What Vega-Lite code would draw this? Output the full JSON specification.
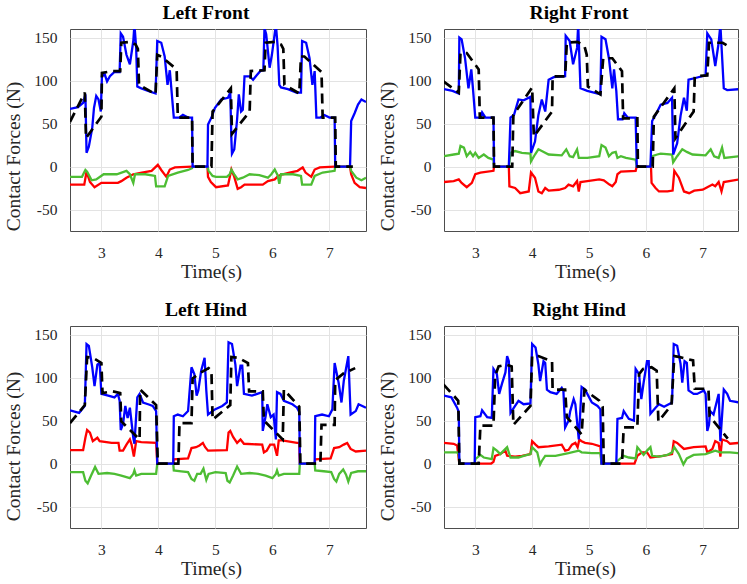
{
"$schema":"https://vega.github.io/schema/vega-lite/v6.json",
"background":"white",
"padding":{"left":3,"top":2,"right":2,"bottom":2},
"spacing":{"row":17,"column":10},
"columns":2,
"datasets":{
"LFb":[{"t":2.45,"v":67},{"t":2.59,"v":69},{"t":2.68,"v":74},{"t":2.72,"v":84},{"t":2.74,"v":16},{"t":2.78,"v":23},{"t":2.84,"v":45},{"t":2.87,"v":68},{"t":2.91,"v":82},{"t":2.95,"v":78},{"t":2.99,"v":64},{"t":3.01,"v":105},{"t":3.06,"v":107},{"t":3.10,"v":99},{"t":3.15,"v":105},{"t":3.23,"v":110},{"t":3.32,"v":110},{"t":3.34,"v":155},{"t":3.38,"v":151},{"t":3.44,"v":130},{"t":3.50,"v":119},{"t":3.56,"v":146},{"t":3.58,"v":165},{"t":3.61,"v":138},{"t":3.63,"v":93},{"t":3.70,"v":91},{"t":3.82,"v":88},{"t":3.95,"v":85},{"t":3.98,"v":146},{"t":4.05,"v":144},{"t":4.11,"v":128},{"t":4.16,"v":95},{"t":4.20,"v":112},{"t":4.27,"v":57},{"t":4.37,"v":57},{"t":4.43,"v":60},{"t":4.52,"v":57},{"t":4.59,"v":57},{"t":4.60,"v":0},{"t":4.86,"v":0},{"t":4.87,"v":49},{"t":4.93,"v":57},{"t":4.99,"v":68},{"t":5.10,"v":78},{"t":5.22,"v":80},{"t":5.26,"v":86},{"t":5.28,"v":31},{"t":5.29,"v":15},{"t":5.33,"v":20},{"t":5.38,"v":55},{"t":5.41,"v":84},{"t":5.45,"v":64},{"t":5.48,"v":66},{"t":5.51,"v":105},{"t":5.60,"v":105},{"t":5.66,"v":101},{"t":5.72,"v":106},{"t":5.80,"v":112},{"t":5.84,"v":112},{"t":5.86,"v":161},{"t":5.89,"v":154},{"t":5.95,"v":115},{"t":5.99,"v":130},{"t":6.03,"v":150},{"t":6.06,"v":165},{"t":6.09,"v":140},{"t":6.12,"v":95},{"t":6.15,"v":92},{"t":6.27,"v":90},{"t":6.42,"v":86},{"t":6.50,"v":86},{"t":6.52,"v":146},{"t":6.59,"v":144},{"t":6.65,"v":126},{"t":6.70,"v":95},{"t":6.74,"v":111},{"t":6.77,"v":57},{"t":6.84,"v":57},{"t":6.91,"v":60},{"t":7.00,"v":57},{"t":7.09,"v":57},{"t":7.10,"v":0},{"t":7.36,"v":0},{"t":7.38,"v":53},{"t":7.44,"v":62},{"t":7.50,"v":72},{"t":7.56,"v":78},{"t":7.64,"v":75}],
"LFk":[{"t":2.45,"v":52},{"t":2.71,"v":86},{"t":2.73,"v":33},{"t":3.00,"v":58},{"t":3.01,"v":109},{"t":3.20,"v":111},{"t":3.33,"v":111},{"t":3.35,"v":144},{"t":3.50,"v":145},{"t":3.60,"v":142},{"t":3.64,"v":137},{"t":3.66,"v":95},{"t":3.95,"v":84},{"t":3.98,"v":130},{"t":4.05,"v":128},{"t":4.32,"v":113},{"t":4.34,"v":57},{"t":4.59,"v":57},{"t":4.60,"v":0},{"t":4.93,"v":0},{"t":4.95,"v":64},{"t":5.27,"v":91},{"t":5.29,"v":38},{"t":5.60,"v":64},{"t":5.62,"v":111},{"t":5.86,"v":112},{"t":5.88,"v":144},{"t":6.05,"v":145},{"t":6.15,"v":142},{"t":6.19,"v":137},{"t":6.21,"v":95},{"t":6.47,"v":85},{"t":6.50,"v":128},{"t":6.56,"v":128},{"t":6.86,"v":110},{"t":6.88,"v":57},{"t":7.10,"v":57},{"t":7.11,"v":0},{"t":7.41,"v":0}],
"LFg":[{"t":2.45,"v":-12},{"t":2.66,"v":-12},{"t":2.72,"v":-4},{"t":2.75,"v":-6},{"t":2.83,"v":-16},{"t":2.91,"v":-15},{"t":3.04,"v":-9},{"t":3.27,"v":-9},{"t":3.44,"v":-5},{"t":3.50,"v":-9},{"t":3.56,"v":-19},{"t":3.59,"v":-9},{"t":3.77,"v":-9},{"t":3.94,"v":-11},{"t":3.96,"v":-23},{"t":4.11,"v":-23},{"t":4.17,"v":-11},{"t":4.34,"v":-7},{"t":4.52,"v":-4},{"t":4.59,"v":-2},{"t":4.60,"v":0},{"t":4.86,"v":0},{"t":4.88,"v":-5},{"t":4.95,"v":-11},{"t":5.01,"v":-12},{"t":5.20,"v":-12},{"t":5.25,"v":-9},{"t":5.28,"v":-3.5},{"t":5.33,"v":-9},{"t":5.39,"v":-15},{"t":5.48,"v":-13},{"t":5.60,"v":-9},{"t":5.77,"v":-10},{"t":5.92,"v":-13},{"t":5.98,"v":-9},{"t":6.04,"v":-3.5},{"t":6.09,"v":-10},{"t":6.12,"v":-20},{"t":6.15,"v":-9},{"t":6.36,"v":-9},{"t":6.50,"v":-11},{"t":6.52,"v":-21},{"t":6.68,"v":-21},{"t":6.74,"v":-11},{"t":6.88,"v":-7},{"t":7.09,"v":-5},{"t":7.10,"v":0},{"t":7.36,"v":0},{"t":7.38,"v":-5},{"t":7.47,"v":-13},{"t":7.56,"v":-16},{"t":7.64,"v":-13}],
"LFr":[{"t":2.45,"v":-21},{"t":2.70,"v":-21},{"t":2.74,"v":-6},{"t":2.80,"v":-18},{"t":2.88,"v":-24},{"t":3.00,"v":-19},{"t":3.29,"v":-19},{"t":3.35,"v":-17},{"t":3.44,"v":-13},{"t":3.56,"v":-9},{"t":3.71,"v":-7},{"t":3.88,"v":-5},{"t":3.99,"v":2},{"t":4.05,"v":-4},{"t":4.14,"v":-12},{"t":4.20,"v":-3.5},{"t":4.29,"v":-1},{"t":4.59,"v":0},{"t":4.86,"v":0},{"t":4.87,"v":-12},{"t":4.92,"v":-18},{"t":5.01,"v":-24},{"t":5.22,"v":-22},{"t":5.28,"v":-3.5},{"t":5.33,"v":-12},{"t":5.39,"v":-26},{"t":5.45,"v":-24},{"t":5.51,"v":-21},{"t":5.83,"v":-21},{"t":5.92,"v":-17},{"t":6.04,"v":-15},{"t":6.10,"v":-11},{"t":6.18,"v":-9},{"t":6.30,"v":-7},{"t":6.44,"v":-5},{"t":6.53,"v":-1},{"t":6.58,"v":-7},{"t":6.68,"v":-12},{"t":6.74,"v":-3.5},{"t":6.83,"v":-1},{"t":7.09,"v":0},{"t":7.36,"v":0},{"t":7.38,"v":-9},{"t":7.44,"v":-19},{"t":7.53,"v":-24},{"t":7.64,"v":-25}],
"RFb":[{"t":2.45,"v":90},{"t":2.60,"v":88},{"t":2.71,"v":85},{"t":2.72,"v":150},{"t":2.76,"v":148},{"t":2.82,"v":126},{"t":2.88,"v":91},{"t":2.93,"v":113},{"t":2.96,"v":90},{"t":3.00,"v":57},{"t":3.09,"v":57},{"t":3.12,"v":63},{"t":3.18,"v":57},{"t":3.32,"v":57},{"t":3.33,"v":0},{"t":3.59,"v":0},{"t":3.62,"v":57},{"t":3.68,"v":60},{"t":3.76,"v":78},{"t":3.85,"v":77},{"t":3.97,"v":81},{"t":3.98,"v":16},{"t":4.05,"v":29},{"t":4.11,"v":60},{"t":4.17,"v":78},{"t":4.23,"v":64},{"t":4.29,"v":101},{"t":4.38,"v":104},{"t":4.58,"v":105},{"t":4.59,"v":152},{"t":4.66,"v":146},{"t":4.72,"v":119},{"t":4.79,"v":138},{"t":4.81,"v":165},{"t":4.85,"v":91},{"t":4.97,"v":88},{"t":5.20,"v":84},{"t":5.22,"v":151},{"t":5.29,"v":148},{"t":5.35,"v":126},{"t":5.41,"v":91},{"t":5.44,"v":113},{"t":5.48,"v":88},{"t":5.51,"v":55},{"t":5.59,"v":55},{"t":5.62,"v":62},{"t":5.68,"v":57},{"t":5.82,"v":57},{"t":5.84,"v":0},{"t":6.08,"v":0},{"t":6.11,"v":53},{"t":6.17,"v":60},{"t":6.26,"v":72},{"t":6.38,"v":74},{"t":6.46,"v":80},{"t":6.48,"v":14},{"t":6.55,"v":27},{"t":6.61,"v":59},{"t":6.67,"v":80},{"t":6.72,"v":65},{"t":6.75,"v":101},{"t":6.87,"v":103},{"t":7.05,"v":106},{"t":7.08,"v":155},{"t":7.15,"v":148},{"t":7.22,"v":117},{"t":7.28,"v":144},{"t":7.31,"v":165},{"t":7.37,"v":91},{"t":7.43,"v":89},{"t":7.64,"v":90}],
"RFk":[{"t":2.44,"v":99},{"t":2.71,"v":86},{"t":2.74,"v":132},{"t":2.85,"v":132},{"t":3.06,"v":113},{"t":3.08,"v":57},{"t":3.32,"v":57},{"t":3.33,"v":0},{"t":3.65,"v":0},{"t":3.67,"v":60},{"t":4.00,"v":92},{"t":4.03,"v":35},{"t":4.35,"v":64},{"t":4.36,"v":105},{"t":4.58,"v":105},{"t":4.61,"v":144},{"t":4.80,"v":145},{"t":4.92,"v":140},{"t":4.96,"v":130},{"t":4.98,"v":93},{"t":5.20,"v":84},{"t":5.25,"v":126},{"t":5.41,"v":126},{"t":5.58,"v":111},{"t":5.60,"v":56},{"t":5.85,"v":56},{"t":5.86,"v":0},{"t":6.12,"v":0},{"t":6.14,"v":58},{"t":6.50,"v":91},{"t":6.52,"v":33},{"t":6.84,"v":64},{"t":6.86,"v":105},{"t":7.08,"v":106},{"t":7.11,"v":144},{"t":7.35,"v":144},{"t":7.45,"v":140}],
"RFg":[{"t":2.45,"v":12},{"t":2.62,"v":14},{"t":2.71,"v":15},{"t":2.74,"v":24},{"t":2.80,"v":22},{"t":2.85,"v":12},{"t":2.91,"v":17},{"t":2.96,"v":12},{"t":3.00,"v":16},{"t":3.06,"v":10},{"t":3.15,"v":14},{"t":3.23,"v":10},{"t":3.32,"v":8},{"t":3.33,"v":0},{"t":3.59,"v":0},{"t":3.62,"v":16},{"t":3.70,"v":18},{"t":3.82,"v":16},{"t":3.97,"v":15},{"t":3.98,"v":6},{"t":4.05,"v":14},{"t":4.11,"v":20},{"t":4.17,"v":18},{"t":4.29,"v":14},{"t":4.52,"v":13},{"t":4.60,"v":20},{"t":4.66,"v":12},{"t":4.72,"v":11},{"t":4.79,"v":20},{"t":4.82,"v":10},{"t":4.97,"v":10},{"t":5.18,"v":12},{"t":5.22,"v":25},{"t":5.29,"v":22},{"t":5.35,"v":12},{"t":5.41,"v":16},{"t":5.47,"v":17},{"t":5.50,"v":10},{"t":5.56,"v":12},{"t":5.65,"v":10},{"t":5.82,"v":8},{"t":5.84,"v":0},{"t":6.08,"v":0},{"t":6.11,"v":12},{"t":6.20,"v":14},{"t":6.26,"v":15},{"t":6.46,"v":14},{"t":6.48,"v":5},{"t":6.55,"v":12},{"t":6.64,"v":20},{"t":6.72,"v":17},{"t":6.82,"v":14},{"t":7.05,"v":13},{"t":7.14,"v":20},{"t":7.20,"v":12},{"t":7.28,"v":10},{"t":7.34,"v":22},{"t":7.38,"v":10},{"t":7.64,"v":12}],
"RFr":[{"t":2.45,"v":-18},{"t":2.62,"v":-17},{"t":2.71,"v":-15},{"t":2.76,"v":-19},{"t":2.85,"v":-24},{"t":2.94,"v":-19},{"t":3.00,"v":-9},{"t":3.09,"v":-7},{"t":3.32,"v":-5},{"t":3.33,"v":0},{"t":3.59,"v":0},{"t":3.60,"v":-23},{"t":3.70,"v":-25},{"t":3.79,"v":-31},{"t":3.94,"v":-29},{"t":3.98,"v":-7},{"t":4.05,"v":-13},{"t":4.11,"v":-29},{"t":4.17,"v":-31},{"t":4.23,"v":-25},{"t":4.29,"v":-28},{"t":4.47,"v":-27},{"t":4.58,"v":-25},{"t":4.64,"v":-21},{"t":4.72,"v":-23},{"t":4.79,"v":-17},{"t":4.82,"v":-29},{"t":4.85,"v":-18},{"t":4.97,"v":-17},{"t":5.18,"v":-15},{"t":5.26,"v":-16},{"t":5.36,"v":-21},{"t":5.41,"v":-23},{"t":5.47,"v":-18},{"t":5.50,"v":-9},{"t":5.56,"v":-6},{"t":5.82,"v":-5},{"t":5.84,"v":0},{"t":6.09,"v":0},{"t":6.10,"v":-19},{"t":6.17,"v":-25},{"t":6.23,"v":-29},{"t":6.38,"v":-29},{"t":6.47,"v":-28},{"t":6.50,"v":-5},{"t":6.58,"v":-13},{"t":6.67,"v":-29},{"t":6.76,"v":-31},{"t":6.85,"v":-28},{"t":7.00,"v":-27},{"t":7.08,"v":-24},{"t":7.17,"v":-21},{"t":7.22,"v":-23},{"t":7.28,"v":-18},{"t":7.33,"v":-29},{"t":7.37,"v":-18},{"t":7.64,"v":-15}],
"LHb":[{"t":2.45,"v":62},{"t":2.61,"v":59},{"t":2.71,"v":67},{"t":2.74,"v":139},{"t":2.78,"v":137},{"t":2.84,"v":112},{"t":2.88,"v":90},{"t":2.93,"v":115},{"t":2.97,"v":117},{"t":3.00,"v":81},{"t":3.12,"v":79},{"t":3.23,"v":77},{"t":3.29,"v":81},{"t":3.32,"v":73},{"t":3.34,"v":39},{"t":3.38,"v":46},{"t":3.42,"v":67},{"t":3.46,"v":53},{"t":3.50,"v":65},{"t":3.56,"v":30},{"t":3.58,"v":23},{"t":3.63,"v":77},{"t":3.67,"v":81},{"t":3.73,"v":71},{"t":3.82,"v":69},{"t":3.90,"v":67},{"t":3.96,"v":61},{"t":3.98,"v":0},{"t":4.26,"v":0},{"t":4.27,"v":55},{"t":4.34,"v":57},{"t":4.43,"v":55},{"t":4.52,"v":61},{"t":4.58,"v":112},{"t":4.63,"v":104},{"t":4.67,"v":79},{"t":4.70,"v":85},{"t":4.75,"v":108},{"t":4.81,"v":123},{"t":4.84,"v":85},{"t":4.87,"v":57},{"t":4.99,"v":63},{"t":5.12,"v":67},{"t":5.20,"v":71},{"t":5.23,"v":141},{"t":5.29,"v":139},{"t":5.35,"v":115},{"t":5.38,"v":90},{"t":5.44,"v":114},{"t":5.47,"v":114},{"t":5.50,"v":81},{"t":5.64,"v":79},{"t":5.82,"v":83},{"t":5.83,"v":38},{"t":5.88,"v":55},{"t":5.91,"v":69},{"t":5.97,"v":54},{"t":6.02,"v":57},{"t":6.06,"v":28},{"t":6.08,"v":83},{"t":6.14,"v":81},{"t":6.20,"v":73},{"t":6.35,"v":69},{"t":6.43,"v":65},{"t":6.47,"v":60},{"t":6.48,"v":0},{"t":6.74,"v":0},{"t":6.75,"v":55},{"t":6.87,"v":57},{"t":6.99,"v":55},{"t":7.05,"v":63},{"t":7.09,"v":117},{"t":7.16,"v":94},{"t":7.21,"v":71},{"t":7.25,"v":96},{"t":7.33,"v":125},{"t":7.37,"v":57},{"t":7.46,"v":61},{"t":7.51,"v":69},{"t":7.64,"v":65}],
"LHk":[{"t":2.45,"v":47},{"t":2.71,"v":68},{"t":2.75,"v":124},{"t":2.85,"v":123},{"t":3.00,"v":117},{"t":3.02,"v":82},{"t":3.20,"v":84},{"t":3.33,"v":82},{"t":3.35,"v":49},{"t":3.67,"v":28},{"t":3.68,"v":86},{"t":3.96,"v":68},{"t":3.99,"v":0},{"t":4.35,"v":0},{"t":4.37,"v":47},{"t":4.58,"v":47},{"t":4.60,"v":99},{"t":4.75,"v":106},{"t":4.88,"v":111},{"t":4.93,"v":108},{"t":4.95,"v":51},{"t":5.26,"v":68},{"t":5.28,"v":124},{"t":5.40,"v":123},{"t":5.57,"v":117},{"t":5.59,"v":84},{"t":5.83,"v":84},{"t":5.85,"v":50},{"t":6.18,"v":28},{"t":6.20,"v":86},{"t":6.47,"v":66},{"t":6.49,"v":0},{"t":6.84,"v":0},{"t":6.86,"v":45},{"t":7.09,"v":45},{"t":7.10,"v":97},{"t":7.25,"v":105},{"t":7.45,"v":111}],
"LHg":[{"t":2.45,"v":-10},{"t":2.68,"v":-10},{"t":2.72,"v":-20},{"t":2.76,"v":-23},{"t":2.82,"v":-14},{"t":2.89,"v":-4},{"t":2.95,"v":-12},{"t":3.10,"v":-11},{"t":3.23,"v":-12},{"t":3.35,"v":-14},{"t":3.50,"v":-17},{"t":3.56,"v":-12},{"t":3.58,"v":-8},{"t":3.61,"v":-14},{"t":3.70,"v":-12},{"t":3.96,"v":-12},{"t":3.98,"v":0},{"t":4.26,"v":0},{"t":4.27,"v":-8},{"t":4.40,"v":-9},{"t":4.52,"v":-10},{"t":4.58,"v":-18},{"t":4.63,"v":-20},{"t":4.68,"v":-12},{"t":4.74,"v":-12},{"t":4.79,"v":-6},{"t":4.84,"v":-19},{"t":4.88,"v":-12},{"t":5.00,"v":-10},{"t":5.18,"v":-11},{"t":5.21,"v":-20},{"t":5.25,"v":-22},{"t":5.31,"v":-14},{"t":5.38,"v":-3.5},{"t":5.45,"v":-12},{"t":5.60,"v":-11},{"t":5.75,"v":-12},{"t":5.88,"v":-14},{"t":6.00,"v":-17},{"t":6.06,"v":-12},{"t":6.08,"v":-8},{"t":6.11,"v":-14},{"t":6.20,"v":-12},{"t":6.47,"v":-12},{"t":6.48,"v":0},{"t":6.74,"v":0},{"t":6.75,"v":-8},{"t":6.90,"v":-9},{"t":7.03,"v":-10},{"t":7.08,"v":-18},{"t":7.12,"v":-21},{"t":7.17,"v":-12},{"t":7.24,"v":-7},{"t":7.29,"v":-13},{"t":7.33,"v":-21},{"t":7.38,"v":-11},{"t":7.50,"v":-9},{"t":7.64,"v":-9}],
"LHr":[{"t":2.45,"v":15.5},{"t":2.68,"v":15.5},{"t":2.72,"v":30},{"t":2.75,"v":39},{"t":2.80,"v":36},{"t":2.85,"v":26},{"t":2.93,"v":30},{"t":2.97,"v":26},{"t":3.18,"v":24},{"t":3.30,"v":24},{"t":3.32,"v":15},{"t":3.38,"v":15},{"t":3.44,"v":22},{"t":3.50,"v":28},{"t":3.53,"v":22},{"t":3.57,"v":8},{"t":3.61,"v":26},{"t":3.70,"v":25},{"t":3.96,"v":24},{"t":3.98,"v":0},{"t":4.26,"v":0},{"t":4.27,"v":5},{"t":4.52,"v":6},{"t":4.58,"v":18},{"t":4.66,"v":19},{"t":4.72,"v":21},{"t":4.78,"v":24},{"t":4.82,"v":19},{"t":4.87,"v":15},{"t":5.20,"v":15.5},{"t":5.23,"v":36},{"t":5.26,"v":38},{"t":5.31,"v":31},{"t":5.38,"v":24},{"t":5.44,"v":28},{"t":5.50,"v":23},{"t":5.82,"v":22},{"t":5.85,"v":13},{"t":5.90,"v":15},{"t":5.96,"v":22},{"t":6.03,"v":22},{"t":6.08,"v":9},{"t":6.11,"v":27},{"t":6.17,"v":27},{"t":6.43,"v":24},{"t":6.47,"v":24},{"t":6.48,"v":0},{"t":6.74,"v":0},{"t":6.75,"v":5},{"t":7.02,"v":6},{"t":7.08,"v":18},{"t":7.17,"v":19},{"t":7.25,"v":22},{"t":7.31,"v":24},{"t":7.37,"v":17},{"t":7.46,"v":14},{"t":7.64,"v":15}],
"RHb":[{"t":2.45,"v":79},{"t":2.58,"v":77},{"t":2.68,"v":65},{"t":2.71,"v":60},{"t":2.72,"v":0},{"t":2.99,"v":0},{"t":3.00,"v":54},{"t":3.09,"v":55},{"t":3.12,"v":62},{"t":3.21,"v":54},{"t":3.29,"v":53},{"t":3.32,"v":110},{"t":3.38,"v":104},{"t":3.42,"v":81},{"t":3.47,"v":93},{"t":3.53,"v":106},{"t":3.56,"v":125},{"t":3.59,"v":119},{"t":3.62,"v":59},{"t":3.68,"v":65},{"t":3.76,"v":73},{"t":3.85,"v":69},{"t":3.97,"v":70},{"t":4.00,"v":139},{"t":4.06,"v":135},{"t":4.11,"v":115},{"t":4.14,"v":96},{"t":4.20,"v":119},{"t":4.23,"v":117},{"t":4.26,"v":86},{"t":4.32,"v":83},{"t":4.43,"v":81},{"t":4.52,"v":88},{"t":4.55,"v":84},{"t":4.58,"v":42},{"t":4.64,"v":50},{"t":4.67,"v":61},{"t":4.73,"v":75},{"t":4.76,"v":69},{"t":4.82,"v":28},{"t":4.87,"v":89},{"t":4.93,"v":86},{"t":5.05,"v":71},{"t":5.15,"v":67},{"t":5.20,"v":63},{"t":5.22,"v":0},{"t":5.48,"v":0},{"t":5.50,"v":52},{"t":5.58,"v":53},{"t":5.61,"v":61},{"t":5.70,"v":52},{"t":5.79,"v":50},{"t":5.82,"v":110},{"t":5.88,"v":104},{"t":5.92,"v":75},{"t":5.96,"v":94},{"t":6.02,"v":119},{"t":6.05,"v":119},{"t":6.08,"v":58},{"t":6.17,"v":65},{"t":6.23,"v":69},{"t":6.32,"v":66},{"t":6.46,"v":71},{"t":6.49,"v":139},{"t":6.55,"v":137},{"t":6.61,"v":116},{"t":6.64,"v":94},{"t":6.68,"v":119},{"t":6.72,"v":117},{"t":6.75,"v":85},{"t":6.84,"v":81},{"t":6.90,"v":81},{"t":7.02,"v":85},{"t":7.05,"v":81},{"t":7.08,"v":38},{"t":7.11,"v":45},{"t":7.13,"v":61},{"t":7.19,"v":57},{"t":7.25,"v":73},{"t":7.28,"v":81},{"t":7.31,"v":26},{"t":7.37,"v":86},{"t":7.43,"v":81},{"t":7.48,"v":73},{"t":7.64,"v":71}],
"RHk":[{"t":2.44,"v":92},{"t":2.62,"v":79},{"t":2.70,"v":73},{"t":2.72,"v":0},{"t":3.06,"v":0},{"t":3.09,"v":44},{"t":3.32,"v":44},{"t":3.35,"v":102},{"t":3.41,"v":113},{"t":3.55,"v":115},{"t":3.64,"v":113},{"t":3.67,"v":45},{"t":3.97,"v":67},{"t":4.00,"v":125},{"t":4.11,"v":125},{"t":4.35,"v":119},{"t":4.36,"v":86},{"t":4.58,"v":86},{"t":4.61,"v":54},{"t":4.87,"v":34},{"t":4.92,"v":86},{"t":5.18,"v":73},{"t":5.24,"v":66},{"t":5.26,"v":0},{"t":5.58,"v":0},{"t":5.61,"v":42},{"t":5.85,"v":42},{"t":5.88,"v":104},{"t":5.95,"v":110},{"t":6.10,"v":112},{"t":6.19,"v":108},{"t":6.22,"v":49},{"t":6.45,"v":68},{"t":6.50,"v":125},{"t":6.58,"v":124},{"t":6.83,"v":120},{"t":6.86,"v":87},{"t":7.10,"v":87},{"t":7.12,"v":55},{"t":7.44,"v":29}],
"RHg":[{"t":2.45,"v":13},{"t":2.68,"v":13},{"t":2.71,"v":11},{"t":2.72,"v":0},{"t":2.99,"v":0},{"t":3.00,"v":5},{"t":3.09,"v":10},{"t":3.15,"v":7},{"t":3.29,"v":5},{"t":3.32,"v":18},{"t":3.38,"v":15},{"t":3.44,"v":11},{"t":3.50,"v":15},{"t":3.56,"v":19},{"t":3.62,"v":7},{"t":3.76,"v":7},{"t":3.85,"v":9},{"t":3.97,"v":11},{"t":4.00,"v":19},{"t":4.09,"v":13},{"t":4.14,"v":-1},{"t":4.17,"v":3},{"t":4.23,"v":9},{"t":4.41,"v":9},{"t":4.64,"v":12},{"t":4.82,"v":15},{"t":4.87,"v":13},{"t":5.05,"v":12},{"t":5.20,"v":12},{"t":5.22,"v":0},{"t":5.48,"v":0},{"t":5.50,"v":3},{"t":5.61,"v":9},{"t":5.70,"v":7},{"t":5.82,"v":6},{"t":5.85,"v":19},{"t":5.90,"v":15},{"t":5.96,"v":10},{"t":6.02,"v":15},{"t":6.08,"v":19},{"t":6.11,"v":9},{"t":6.23,"v":8},{"t":6.38,"v":10},{"t":6.46,"v":13},{"t":6.50,"v":19},{"t":6.58,"v":11},{"t":6.66,"v":-1},{"t":6.72,"v":6},{"t":6.84,"v":10},{"t":7.05,"v":11},{"t":7.22,"v":15},{"t":7.31,"v":13},{"t":7.48,"v":13},{"t":7.64,"v":12}],
"RHr":[{"t":2.45,"v":24},{"t":2.62,"v":23},{"t":2.68,"v":21},{"t":2.72,"v":0},{"t":3.28,"v":0},{"t":3.32,"v":2},{"t":3.35,"v":9},{"t":3.44,"v":11},{"t":3.53,"v":15},{"t":3.56,"v":9},{"t":3.70,"v":8},{"t":3.82,"v":9},{"t":3.97,"v":11},{"t":4.00,"v":26},{"t":4.06,"v":22},{"t":4.11,"v":19},{"t":4.29,"v":20},{"t":4.52,"v":22},{"t":4.58,"v":15},{"t":4.64,"v":16},{"t":4.70,"v":22},{"t":4.76,"v":24},{"t":4.80,"v":19},{"t":4.83,"v":28},{"t":4.87,"v":26},{"t":4.93,"v":24},{"t":5.05,"v":23},{"t":5.20,"v":20},{"t":5.22,"v":0},{"t":5.80,"v":0},{"t":5.85,"v":9},{"t":5.93,"v":13},{"t":6.02,"v":13},{"t":6.08,"v":7},{"t":6.20,"v":8},{"t":6.30,"v":9},{"t":6.46,"v":11},{"t":6.49,"v":26},{"t":6.55,"v":24},{"t":6.67,"v":17},{"t":6.84,"v":19},{"t":7.05,"v":20},{"t":7.08,"v":13},{"t":7.17,"v":17},{"t":7.22,"v":26},{"t":7.28,"v":24},{"t":7.31,"v":8},{"t":7.34,"v":28},{"t":7.43,"v":26},{"t":7.48,"v":23},{"t":7.64,"v":24}]
},
"concat":[
{"title":{"text":"Left Front"},"width":296,"height":202,
"encoding":{"x":{"field":"t","type":"quantitative","scale":{"domain":[2.45,7.64],"nice":false,"zero":false},"axis":{"title":"Time(s)","values":[3,4,5,6,7],"titleX":141,"labelFont":"Liberation Serif"}},
"y":{"field":"v","type":"quantitative","scale":{"domain":[-75,160],"nice":false,"zero":false},"axis":{"title":"Contact Forces (N)","values":[-50,0,50,100,150],"labelExpr":"''+datum.value","titleY":127,"labelFont":"Liberation Serif"}}},
"layer":[
{"data":{"name":"LFr"},"mark":{"type":"line","color":"#ff0000","strokeWidth":2.3,"clip":true},"encoding":{}},
{"data":{"name":"LFg"},"mark":{"type":"line","color":"#4dbd33","strokeWidth":2.3,"clip":true},"encoding":{}},
{"data":{"name":"LFb"},"mark":{"type":"line","color":"#0000ff","strokeWidth":2.3,"clip":true},"encoding":{}},
{"data":{"name":"LFk"},"mark":{"type":"line","color":"#000000","strokeWidth":2.7,"strokeDash":[10,6],"clip":true},"encoding":{}}]},
{"title":{"text":"Right Front"},"width":294,"height":202,
"encoding":{"x":{"field":"t","type":"quantitative","scale":{"domain":[2.45,7.62],"nice":false,"zero":false},"axis":{"title":"Time(s)","values":[3,4,5,6,7],"titleX":141,"labelFont":"Liberation Serif"}},
"y":{"field":"v","type":"quantitative","scale":{"domain":[-75,160],"nice":false,"zero":false},"axis":{"title":"Contact Forces (N)","values":[-50,0,50,100,150],"labelExpr":"''+datum.value","titleY":127,"labelFont":"Liberation Serif"}}},
"layer":[
{"data":{"name":"RFr"},"mark":{"type":"line","color":"#ff0000","strokeWidth":2.3,"clip":true},"encoding":{}},
{"data":{"name":"RFg"},"mark":{"type":"line","color":"#4dbd33","strokeWidth":2.3,"clip":true},"encoding":{}},
{"data":{"name":"RFb"},"mark":{"type":"line","color":"#0000ff","strokeWidth":2.3,"clip":true},"encoding":{}},
{"data":{"name":"RFk"},"mark":{"type":"line","color":"#000000","strokeWidth":2.7,"strokeDash":[10,6],"clip":true},"encoding":{}}]},
{"title":{"text":"Left Hind"},"width":296,"height":202,
"encoding":{"x":{"field":"t","type":"quantitative","scale":{"domain":[2.45,7.64],"nice":false,"zero":false},"axis":{"title":"Time(s)","values":[3,4,5,6,7],"titleX":141,"labelFont":"Liberation Serif"}},
"y":{"field":"v","type":"quantitative","scale":{"domain":[-75,160],"nice":false,"zero":false},"axis":{"title":"Contact Forces (N)","values":[-50,0,50,100,150],"labelExpr":"''+datum.value","titleY":120,"labelFont":"Liberation Serif"}}},
"layer":[
{"data":{"name":"LHr"},"mark":{"type":"line","color":"#ff0000","strokeWidth":2.3,"clip":true},"encoding":{}},
{"data":{"name":"LHg"},"mark":{"type":"line","color":"#4dbd33","strokeWidth":2.3,"clip":true},"encoding":{}},
{"data":{"name":"LHb"},"mark":{"type":"line","color":"#0000ff","strokeWidth":2.3,"clip":true},"encoding":{}},
{"data":{"name":"LHk"},"mark":{"type":"line","color":"#000000","strokeWidth":2.7,"strokeDash":[10,6],"clip":true},"encoding":{}}]},
{"title":{"text":"Right Hind"},"width":294,"height":202,
"encoding":{"x":{"field":"t","type":"quantitative","scale":{"domain":[2.45,7.62],"nice":false,"zero":false},"axis":{"title":"Time(s)","values":[3,4,5,6,7],"titleX":141,"labelFont":"Liberation Serif"}},
"y":{"field":"v","type":"quantitative","scale":{"domain":[-75,160],"nice":false,"zero":false},"axis":{"title":"Contact Forces (N)","values":[-50,0,50,100,150],"labelExpr":"''+datum.value","titleY":120,"labelFont":"Liberation Serif"}}},
"layer":[
{"data":{"name":"RHr"},"mark":{"type":"line","color":"#ff0000","strokeWidth":2.3,"clip":true},"encoding":{}},
{"data":{"name":"RHg"},"mark":{"type":"line","color":"#4dbd33","strokeWidth":2.3,"clip":true},"encoding":{}},
{"data":{"name":"RHb"},"mark":{"type":"line","color":"#0000ff","strokeWidth":2.3,"clip":true},"encoding":{}},
{"data":{"name":"RHk"},"mark":{"type":"line","color":"#000000","strokeWidth":2.7,"strokeDash":[10,6],"clip":true},"encoding":{}}]}
],
"config":{
"font":"Liberation Serif",
"view":{"stroke":"#4d4d4d","strokeWidth":1},
"axis":{"labelFont":"Liberation Serif","labelFontSize":15.5,"labelColor":"#262626","titleFont":"Liberation Serif","titleFontSize":19.5,"titleFontWeight":"normal","titleColor":"#262626","grid":true,"gridColor":"#e3e3e3","gridWidth":1,"domain":false,"ticks":false,"tickSize":0,"labelPadding":13},
"axisX":{"titlePadding":2,"labelPadding":14},
"axisY":{"titlePadding":10},
"title":{"font":"Liberation Serif","fontSize":19.5,"fontWeight":"bold","color":"#000000","offset":6,"frame":"group","dx":-12}
}
}
